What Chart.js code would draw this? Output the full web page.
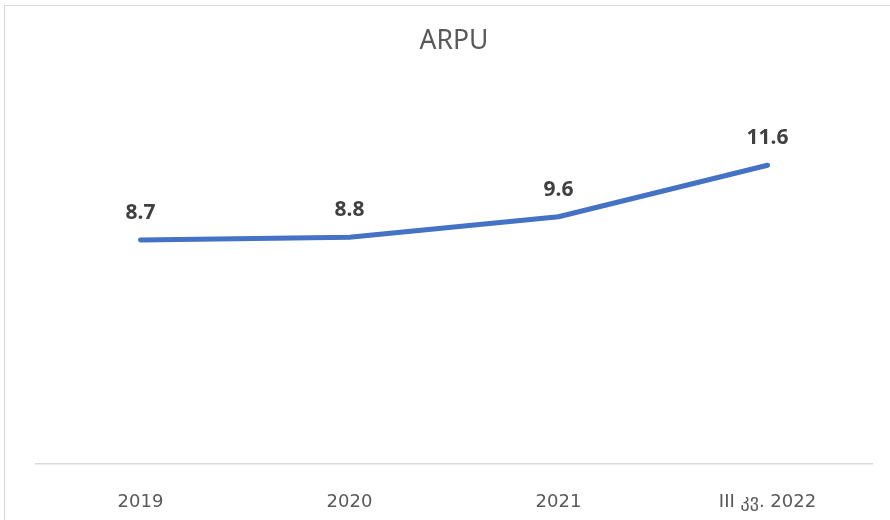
<!DOCTYPE html>
<html lang="ka">
<head>
    <meta charset="UTF-8">
    <title>ARPU</title>
    <script src="https://cdn.jsdelivr.net/npm/chart.js"></script>
    <style>
        body { margin: 0; background: #fff; }
        .moldura {
            position: absolute;
            left: 4px;
            top: 5px;
            width: 885px;
            height: 514px;
            border-left: 1.5px solid #d9d9d9;
            border-top: 1.5px solid #d9d9d9;
        }
        .moldura canvas { display: block; }
    </style>
</head>
<body>
    <div class="moldura">
        <canvas id="grafico_arpu" width="885" height="514"></canvas>
    </div>
<script>
    // dados
    var anos = ['2019', '2020', '2021', 'III კვ. 2022'];
    var valores_arpu = [8.7, 8.8, 9.6, 11.6];
    var rotulos_valores = ['8.7', '8.8', '9.6', '11.6'];

    var fonte = "'Noto Sans', 'DejaVu Sans', sans-serif";

    // escreve o valor acima de cada ponto
    var rotulosPlugin = {
        id: 'rotulos',
        afterDatasetsDraw: function (chart) {
            var ctx = chart.ctx;
            var meta = chart.getDatasetMeta(0);
            ctx.save();
            ctx.font = 'bold 21px ' + fonte;
            ctx.fillStyle = '#404040';
            ctx.textAlign = 'center';
            ctx.textBaseline = 'middle';
            meta.data.forEach(function (ponto, i) {
                ctx.fillText(rotulos_valores[i], ponto.x, ponto.y - 27);
            });
            ctx.restore();
        }
    };

    const chart = new Chart('grafico_arpu', {
        type: 'line',
        data: {
            labels: anos,
            datasets: [{
                label: 'ARPU',
                data: valores_arpu,
                borderColor: '#4472C4',
                borderWidth: 5,
                borderCapStyle: 'round',
                borderJoinStyle: 'round',
                pointRadius: 0,
                tension: 0,
                fill: false
            }]
        },
        options: {
            responsive: false,
            animation: false,
            layout: {
                padding: { left: 31, right: 18, top: 20, bottom: 0 }
            },
            plugins: {
                legend: { display: false },
                tooltip: { enabled: false },
                title: {
                    display: true,
                    text: 'ARPU',
                    color: '#595959',
                    font: { family: fonte, size: 26.5, weight: 'normal' },
                    padding: { top: 0, bottom: 45.6 }
                }
            },
            scales: {
                x: {
                    offset: true,
                    grid: { display: false },
                    border: { display: true, color: '#d9d9d9', width: 1.5 },
                    ticks: {
                        color: '#595959',
                        font: { family: "'DejaVu Sans', sans-serif", size: 18 },
                        padding: 20,
                        maxRotation: 0,
                        autoSkip: false
                    },
                    afterFit: function (escala) {
                        escala.height = 56;
                    }
                },
                y: {
                    display: false,
                    min: 0,
                    max: 14
                }
            }
        },
        plugins: [rotulosPlugin]
    });
</script>
</body>
</html>
